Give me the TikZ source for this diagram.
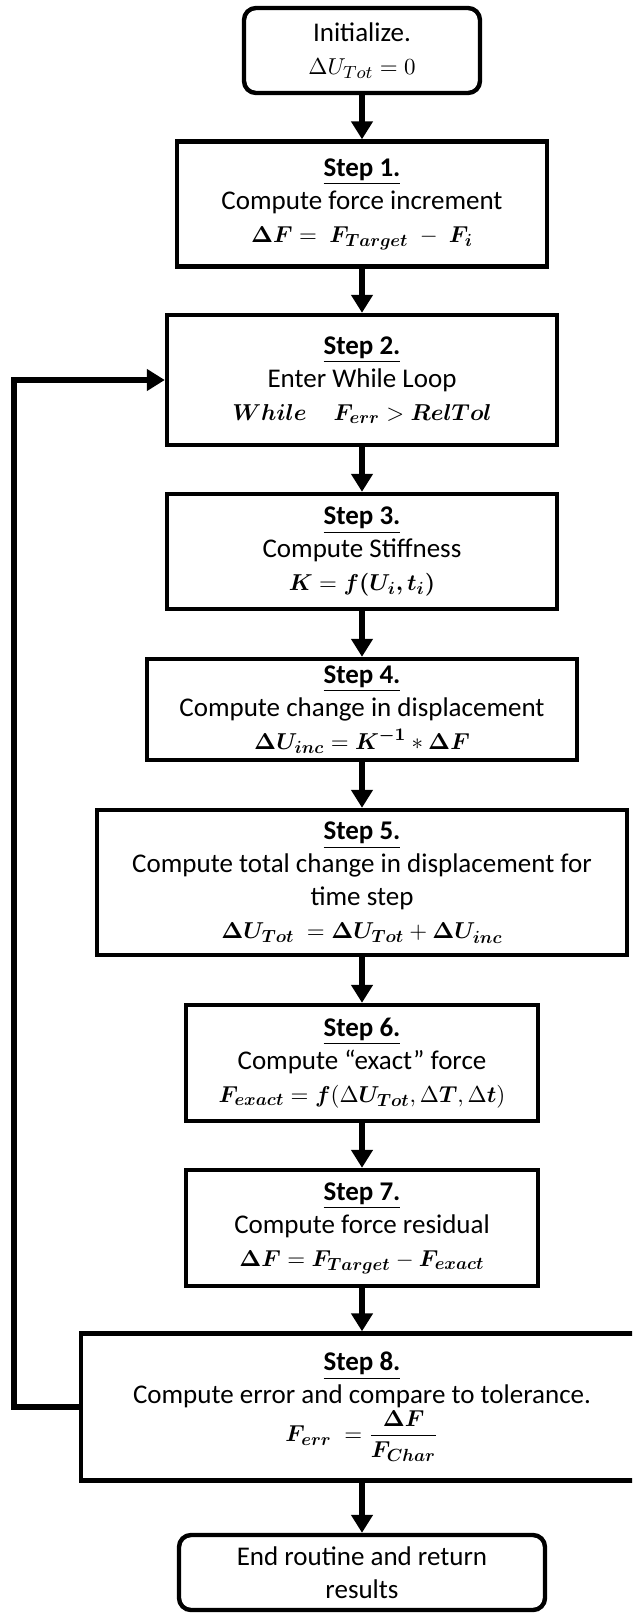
\RequirePackage{fix-cm}
\documentclass[tikz,border=0pt]{standalone}
\usepackage{amsmath}
\usepackage{bm}
\usepackage{fontspec}
\setmainfont{Carlito}
\usetikzlibrary{arrows.meta}
\DeclareMathSizes{13.5}{11.5}{8.8}{6.5}

\newcommand{\steptitle}[1]{\underline{\textbf{Step #1.}}}

\begin{document}
\begin{tikzpicture}[x=0.5pt,y=-0.5pt,
		font=\fontsize{13.5}{16.5}\selectfont,
		box/.style={draw, line width=2.2pt, inner sep=0pt, align=center},
		term/.style={box, rounded corners=6pt},
		flow/.style={line width=3pt, -{Triangle[width=10.5pt,length=9pt]}}]
			\useasboundingbox (0,0) rectangle (632,1615);
			\clip (0,0) rectangle (632,1615);
			\node (init) [term, minimum width=118pt, minimum height=42.5pt] at (362,50.5)
				{Initialize.\\ $\Delta U_{Tot} = 0$};
			\node (s1) [box, minimum width=185pt, minimum height=62.5pt] at (362,204)
				{\steptitle{1}\\ Compute force increment\\
				$\bm{\Delta F} =\ \bm{F_{Target}}\ -\ \bm{F_i}$};
			\node (s2) [box, minimum width=195pt, minimum height=65pt] at (362,380)
				{\steptitle{2}\\ Enter While Loop\\
				$\bm{While}\quad \bm{F_{err}} > \bm{RelTol}$};
			\node (s3) [box, minimum width=195pt, minimum height=57.5pt] at (362,551.5)
				{\steptitle{3}\\ Compute Stiffness\\
				$\bm{K} = \bm{f(U_i,t_i)}$};
			\node (s4) [box, minimum width=215pt, minimum height=50.5pt] at (362,709.5)
				{\steptitle{4}\\ Compute change in displacement\\
				$\bm{\Delta U_{inc}} = \bm{K^{-1}} * \bm{\Delta F}$};
			\node (s5) [box, minimum width=265pt, minimum height=72.5pt] at (362,882.5)
				{\steptitle{5}\\ Compute total change in displacement for\\ time step\\
				$\bm{\Delta U_{Tot}}\ = \bm{\Delta U_{Tot}} + \bm{\Delta U_{inc}}$};
			\node (s6) [box, minimum width=176pt, minimum height=58pt] at (362,1063)
				{\steptitle{6}\\ Compute ``exact'' force\\
				$\bm{F_{exact}} = \bm{f}(\Delta\bm{U_{Tot}},\Delta\bm{T},\Delta\bm{t})$};
			\node (s7) [box, minimum width=176pt, minimum height=58pt] at (362,1228)
				{\steptitle{7}\\ Compute force residual\\
				$\bm{\Delta F} = \bm{F_{Target}} - \bm{F_{exact}}$};
			\node (s8) [box, minimum width=281pt, minimum height=73.5pt] at (362,1407)
				{\steptitle{8}\\ Compute error and compare to tolerance.\\
				$\bm{F_{err}}\ = \dfrac{\bm{\Delta F}}{\bm{F_{Char}}}$};
			\node (end) [term, minimum width=183pt, minimum height=37.5pt] at (362,1572.5)
				{End routine and return\\ results};
			\coordinate (back) at (14,1407);

			\draw[flow] (init) -- (s1);
			\draw[flow] (s1) -- (s2);
			\draw[flow] (s2) -- (s3);
			\draw[flow] (s3) -- (s4);
			\draw[flow] (s4) -- (s5);
			\draw[flow] (s5) -- (s6);
			\draw[flow] (s6) -- (s7);
			\draw[flow] (s7) -- (s8);
			\draw[flow] (s8) -- (end);
			\draw[flow] (s8.west) -- (back) |- (s2.west);
		\end{tikzpicture}
\end{document}
